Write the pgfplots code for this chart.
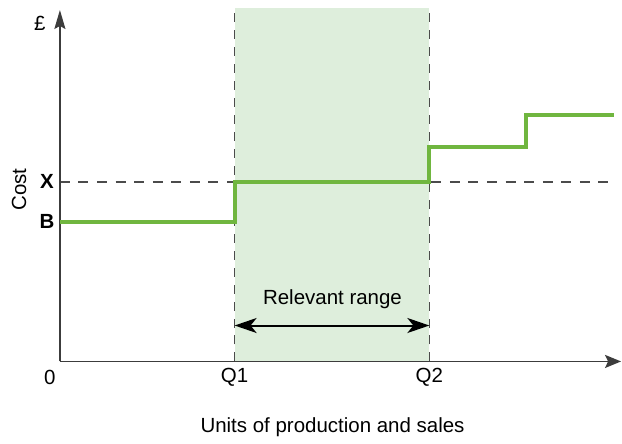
\documentclass[border=0pt]{standalone}
\usepackage{fontspec}
\setmainfont{Liberation Sans}
\usepackage{pgfplots}
\pgfplotsset{compat=1.18}
\usetikzlibrary{arrows.meta}
\definecolor{stepgreen}{RGB}{112,182,63}
\definecolor{shade}{RGB}{222,238,220}
\definecolor{axgray}{RGB}{60,60,60}
\definecolor{dashgray}{RGB}{75,75,75}
\begin{document}
\begin{tikzpicture}
\fontsize{20.5}{24}\selectfont
\begin{axis}[
  scale only axis, width=560pt, height=352pt,
  xmin=0, xmax=560, ymin=0, ymax=352,
  axis lines=none, clip=false,
]
% bounding box (image extent)
\path (axis cs:-60,-77) rectangle (axis cs:562,362);
% shaded relevant range
\addplot[draw=none, fill=shade] coordinates {(175,0) (370,0) (370,354) (175,354)} -- cycle;
% dashed guides
\draw[dashgray, line width=1.7pt, dash pattern=on 9pt off 8pt] (axis cs:175,0) -- (axis cs:175,354);
\draw[dashgray, line width=1.7pt, dash pattern=on 9pt off 8pt] (axis cs:370,0) -- (axis cs:370,354);
\draw[dashgray, line width=1.6pt, dash pattern=on 10pt off 8.6pt] (axis cs:0,180) -- (axis cs:555,180);
% axes
\draw[axgray, line width=1.9pt, -{Stealth[length=19pt,width=11pt,inset=3pt]}] (axis cs:0,0) -- (axis cs:0,352);
\draw[axgray, line width=1.9pt, -{Stealth[length=16pt,width=13pt,inset=3pt]}] (axis cs:0,0) -- (axis cs:562,0);
% step cost
\addplot[stepgreen, line width=3.8pt, const plot, line join=miter] coordinates {
  (0,140) (175,180) (370,215) (467,247) (555,247)
};
% relevant range arrow
\draw[black, line width=2pt, {Stealth[length=22pt,width=15pt,inset=6pt]}-{Stealth[length=22pt,width=15pt,inset=6pt]}] (axis cs:175,36) -- (axis cs:370,36);
\node at (axis cs:273,62) {Relevant range};
% labels
\node at (axis cs:-10,-16) {0};
\node at (axis cs:175,-16) {Q1};
\node at (axis cs:370,-16) {Q2};
\node at (axis cs:273,-66) {Units of production and sales};
\node at (axis cs:-20,339) {£};
\node at (axis cs:-13,180) {\bfseries X};
\node at (axis cs:-13,140) {\bfseries B};
\node[rotate=90] at (axis cs:-41,172) {Cost};
\end{axis}
\end{tikzpicture}
\end{document}
